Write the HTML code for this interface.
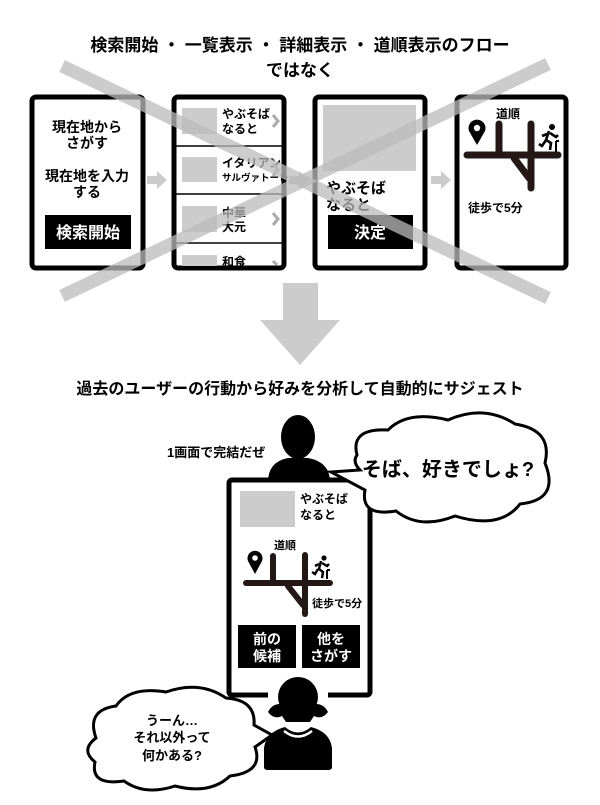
<!DOCTYPE html>
<html><head><meta charset="utf-8"><style>
html,body{margin:0;padding:0;background:#fff;}
svg{display:block;font-family:"Liberation Sans","Noto Sans CJK JP",sans-serif;}
</style></head><body>
<svg width="600" height="805" viewBox="0 0 600 805" xmlns="http://www.w3.org/2000/svg">
<g font-weight="bold" text-anchor="middle" font-size="17" fill="#000">
<text x="300" y="51">検索開始 ・ 一覧表示 ・ 詳細表示 ・ 道順表示のフロー</text>
<text x="300" y="76">ではなく</text>
</g>
<!-- phones top -->
<g fill="#fff" stroke="#000" stroke-width="5">
<rect x="32" y="97" width="111" height="171" rx="4"/>
<rect x="174" y="97" width="110" height="171" rx="4"/>
<rect x="315" y="97" width="110" height="171" rx="4"/>
<rect x="457" y="97" width="109" height="171" rx="4"/>
</g>
<!-- phone1 -->
<g font-size="14" text-anchor="middle" font-weight="bold">
<text x="87" y="132">現在地から</text>
<text x="87" y="148">さがす</text>
<text x="87" y="181">現在地を入力</text>
<text x="87" y="197">する</text>
</g>
<rect x="45" y="215" width="86" height="34" fill="#000"/>
<text x="88" y="238" font-size="16" font-weight="bold" fill="#fff" text-anchor="middle">検索開始</text>
<!-- phone2 -->
<g stroke="#000" stroke-width="1.5"><line x1="174" y1="146" x2="284" y2="146"/><line x1="174" y1="194" x2="284" y2="194"/><line x1="174" y1="243" x2="284" y2="243"/></g>
<g fill="#ccc"><rect x="182" y="108" width="35" height="26"/><rect x="182" y="157" width="35" height="25"/><rect x="182" y="206" width="35" height="26"/><rect x="182" y="255" width="35" height="11"/></g>
<g font-size="12" font-weight="bold">
<text x="222" y="118">やぶそば</text><text x="222" y="133">なると</text>
<text x="222" y="167">イタリアン</text><text x="222" y="181" font-size="9.5">サルヴァトーレ</text>
<text x="222" y="217">中華</text><text x="222" y="231">大元</text>
<text x="222" y="266">和食</text>
</g>
<g fill="none" stroke="#aaa" stroke-width="3"><path d="M273,115 l5,6 l-5,6"/><path d="M273,164 l5,6 l-5,6"/><path d="M273,213 l5,6 l-5,6"/><path d="M273,261 l4,4"/></g>
<!-- phone3 -->
<rect x="323" y="105" width="93" height="66" fill="#ccc"/>
<g font-size="15" font-weight="bold"><text x="326" y="193">やぶそば</text><text x="326" y="210">なると</text></g>
<rect x="328" y="215" width="85" height="34" fill="#000"/>
<text x="370" y="238" font-size="16" font-weight="bold" fill="#fff" text-anchor="middle">決定</text>
<!-- phone4 -->
<text x="508" y="118" font-size="12" font-weight="bold" text-anchor="middle">道順</text>
<g stroke="#231815" stroke-width="7" stroke-linecap="round" fill="none">
<line x1="467" y1="155" x2="558" y2="155"/><line x1="499" y1="124" x2="499" y2="155"/><line x1="531" y1="124" x2="531" y2="188"/><line x1="514" y1="158" x2="529" y2="178"/>
</g>
<path d="M477,145 L469,131 A8.5,8.5 0 1 1 485,131 Z" fill="#000"/><circle cx="477" cy="128" r="3.2" fill="#fff"/>
<g fill="#000" stroke="#000"><circle cx="552" cy="127" r="3" stroke="none"/><path d="M549,131 l-3,9 l5,3 l-1,7 M547,134 l-5,2 M550,133 l6,4 l2,-2 M546,140 l-4,6 l-3,-2" stroke-width="2.6" fill="none"/><path d="M556,141 l0,11 M556,141 l3,0" stroke-width="2" fill="none"/></g>
<text x="468" y="212" font-size="12" font-weight="bold">徒歩で5分</text>
<!-- arrows small -->
<g fill="#ccc"><path d="M147,176 h10 v-5 l10,9 l-10,9 v-5 h-10z"/><path d="M289,176 h10 v-5 l10,9 l-10,9 v-5 h-10z"/><path d="M431,176 h10 v-5 l10,9 l-10,9 v-5 h-10z"/></g>
<!-- big X -->
<g stroke="#bbb" stroke-opacity="0.75" stroke-width="13"><line x1="62" y1="66" x2="548" y2="298"/><line x1="62" y1="296" x2="548" y2="64"/></g>
<!-- down arrow -->
<path d="M283,283 h35 v37 h22 l-40,45 l-40,-45 h23z" fill="#ccc"/>
<text x="300" y="394" font-size="16" font-weight="bold" text-anchor="middle">過去のユーザーの行動から好みを分析して自動的にサジェスト</text>
<!-- bottom phone -->
<rect x="229" y="480" width="141" height="215" rx="3" fill="#fff" stroke="#000" stroke-width="5"/>
<!-- man -->
<ellipse cx="298" cy="437" rx="17" ry="22" fill="#000"/>
<path d="M268,482 Q268,462 288,458 L308,458 Q330,462 330,482 Z" fill="#000"/>
<text x="167" y="457" font-size="13" font-weight="bold">1画面で完結だぜ</text>
<rect x="240" y="491" width="55" height="36" fill="#ccc"/>
<g font-size="12" font-weight="bold"><text x="300" y="503">やぶそば</text><text x="300" y="519">なると</text></g>
<text x="285" y="549" font-size="11" font-weight="bold" text-anchor="middle">道順</text>
<g stroke="#231815" stroke-width="6" stroke-linecap="round" fill="none">
<line x1="246" y1="583" x2="330" y2="583"/><line x1="273" y1="556" x2="273" y2="583"/><line x1="305" y1="555" x2="305" y2="614"/><line x1="288" y1="586" x2="303" y2="605"/>
</g>
<path d="M255,574 L248,561 A7.5,7.5 0 1 1 262,561 Z" fill="#000"/><circle cx="255" cy="558" r="2.8" fill="#fff"/>
<g fill="#000" stroke="#000"><circle cx="324" cy="558" r="2.6" stroke="none"/><path d="M321,561 l-2,8 l4,3 l-1,6 M319,564 l-4,2 M322,563 l5,3 l2,-2 M318,569 l-3,5 l-3,-2" stroke-width="2.4" fill="none"/><path d="M327,570 l0,9 M327,570 l3,0" stroke-width="2" fill="none"/></g>
<text x="312" y="607" font-size="11" font-weight="bold">徒歩で5分</text>
<rect x="238" y="625" width="58" height="43" fill="#000"/><rect x="302" y="625" width="58" height="43" fill="#000"/>
<g font-size="14" fill="#fff" text-anchor="middle" font-weight="bold"><text x="267" y="644">前の</text><text x="267" y="661">候補</text><text x="331" y="644">他を</text><text x="331" y="661">さがす</text></g>
<!-- woman -->
<rect x="268" y="690" width="60" height="10" fill="#fff"/>
<circle cx="298" cy="697" r="20" fill="#000"/>
<path d="M268,712 Q272,704 280,704 L316,704 Q324,704 328,712 Q322,720 314,716 L310,722 L286,722 L282,716 Q274,720 268,712Z" fill="#000"/>
<path d="M264,767 L264,748 Q266,732 285,727 Q298,738 311,727 Q330,732 332,748 L332,767 Q332,770 328,770 L268,770 Q264,770 264,767Z" fill="#000"/>
<path d="M284,731 Q298,742 312,731" stroke="#fff" stroke-width="2.5" fill="none"/>
<!-- right cloud -->
<path d="M357,455 Q350,428 388,430 Q408,410 448,420 Q484,404 515,424 Q553,430 545,463 Q560,500 520,504 Q500,530 455,516 Q420,530 396,511 Q360,517 365,490 L331,472 L360,470 Q352,462 357,455Z" fill="#fff" stroke="#000" stroke-width="3"/>
<text x="448" y="476" font-size="20" font-weight="bold" text-anchor="middle">そば、好きでしょ?</text>
<!-- left cloud -->
<path d="M96,738 Q86,710 116,706 Q130,686 166,692 Q200,680 226,698 Q256,700 254,725 L272,735 L255,747 Q264,772 230,776 Q210,795 175,786 Q145,796 124,781 Q90,786 95,762 Q80,750 96,738Z" fill="#fff" stroke="#000" stroke-width="3"/>
<g font-size="13" font-weight="bold" text-anchor="middle"><text x="172" y="725">うーん…</text><text x="172" y="742">それ以外って</text><text x="172" y="760">何かある?</text></g>
</svg>
</body></html>
